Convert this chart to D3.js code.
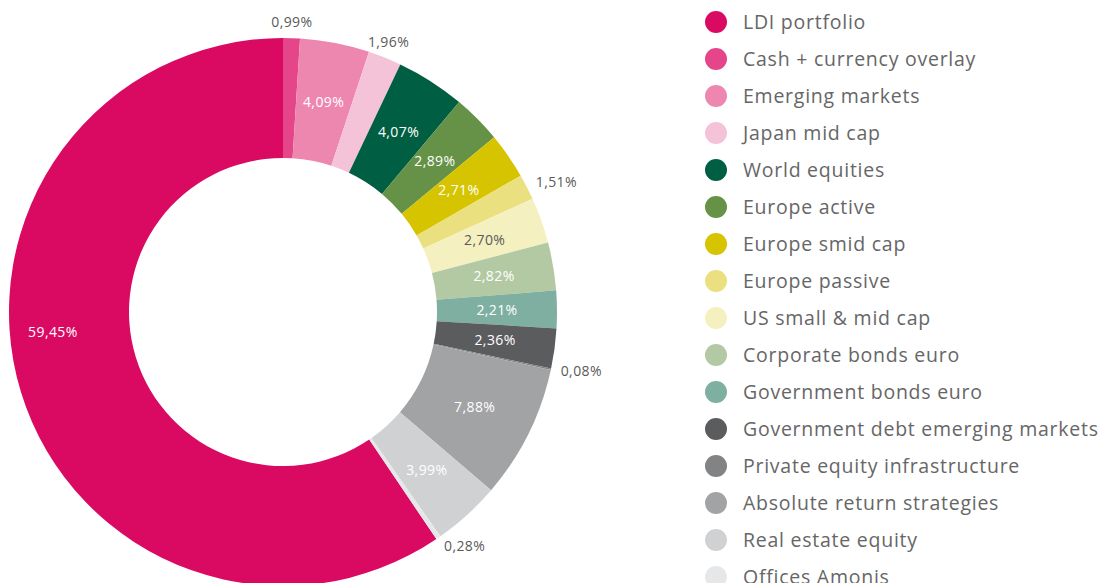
<!DOCTYPE html>
<html>
<head>
<meta charset="utf-8">
<script src="https://cdn.jsdelivr.net/npm/d3@7"></script>
<style>
  body { margin: 0; background: #fff; }
  svg { display: block; font-family: "Open Sans", Lato, sans-serif; }
</style>
</head>
<body>
<div id="chart"></div>
<script>
// allocation data (legend order)
var categories = [
  "LDI portfolio",
  "Cash + currency overlay",
  "Emerging markets",
  "Japan mid cap",
  "World equities",
  "Europe active",
  "Europe smid cap",
  "Europe passive",
  "US small & mid cap",
  "Corporate bonds euro",
  "Government bonds euro",
  "Government debt emerging markets",
  "Private equity infrastructure",
  "Absolute return strategies",
  "Real estate equity",
  "Offices Amonis"
];
var values = [59.45, 0.99, 4.09, 1.96, 4.07, 2.89, 2.71, 1.51, 2.70, 2.82, 2.21, 2.36, 0.08, 7.88, 3.99, 0.28];
var colors = [
  "#da0a63", "#e5468a", "#ee87b0", "#f5c3d8",
  "#005e43", "#659246", "#d7c400", "#eae080",
  "#f4f0bf", "#b3c9a3", "#7eafa0", "#5b5c5e",
  "#828385", "#a2a3a5", "#d0d1d3", "#e6e7e8"
];

var svgWidth = 1100;
var svgHeight = 583;

var cx = 283, cy = 312;
var outerR = 274, innerR = 154;

var svg = d3.select("#chart")
  .append("svg")
  .attr("width", svgWidth)
  .attr("height", svgHeight);

var data = categories.map(function(c, i) {
  return { name: c, value: values[i], color: colors[i], idx: i };
});

var total = d3.sum(values);
// LDI portfolio ends at 12 o'clock, the rest runs clockwise from there
var start = -values[0] / total * 2 * Math.PI;

var pie = d3.pie()
  .sort(null)
  .value(d => d.value)
  .startAngle(start)
  .endAngle(start + 2 * Math.PI);

var arc = d3.arc().innerRadius(innerR).outerRadius(outerR);

var arcs = pie(data);

var chartGroup = svg.append("g")
  .attr("transform", `translate(${cx}, ${cy})`);

chartGroup.selectAll("path")
  .data(arcs)
  .enter()
  .append("path")
  .attr("d", arc)
  .attr("fill", d => d.data.color);

var fmt = d3.formatLocale({ decimal: ",", thousands: ".", grouping: [3], currency: ["", ""] }).format(".2f");

var midR = (innerR + outerR) / 2;
var outR = 284;

chartGroup.selectAll("text.val")
  .data(arcs)
  .enter()
  .append("text")
  .attr("class", "val")
  .style("font-size", "14px")
  .style("letter-spacing", "0.4px")
  .each(function(d) {
    var a = (d.startAngle + d.endAngle) / 2;
    var t = d3.select(this);
    var small = d.value < 2;
    if (d.data.idx === 0) {
      // big slice: label sits at the left side of the ring
      a = -95 * Math.PI / 180;
      t.attr("x", 231 * Math.sin(a)).attr("y", -231 * Math.cos(a))
        .attr("text-anchor", "middle").attr("dy", "0.35em").attr("fill", "#fff");
    } else if (small) {
      var anchor = a < 30 * Math.PI / 180 ? "middle" : "start";
      t.attr("x", outR * Math.sin(a)).attr("y", -outR * Math.cos(a))
        .attr("text-anchor", anchor).attr("dy", anchor === "middle" ? "-0.1em" : "0.35em")
        .attr("fill", "#5a5a5a");
    } else {
      var light = d.data.idx === 8;
      t.attr("x", midR * Math.sin(a)).attr("y", -midR * Math.cos(a))
        .attr("text-anchor", "middle").attr("dy", "0.35em")
        .attr("fill", light ? "#5a5a5a" : "#fff");
    }
  })
  .text(d => fmt(d.value) + "%");

// legend
var legend = svg.append("g")
  .attr("transform", "translate(716, 22)");

var rows = legend.selectAll("g")
  .data(data)
  .enter()
  .append("g")
  .attr("transform", (d, i) => `translate(0, ${i * 37})`);

rows.append("circle")
  .attr("r", 11)
  .attr("fill", d => d.color);

rows.append("text")
  .attr("x", 27)
  .attr("dy", "0.35em")
  .style("font-size", "19.5px")
  .style("letter-spacing", "0.75px")
  .attr("fill", "#666")
  .text(d => d.name);
</script>
</body>
</html>
